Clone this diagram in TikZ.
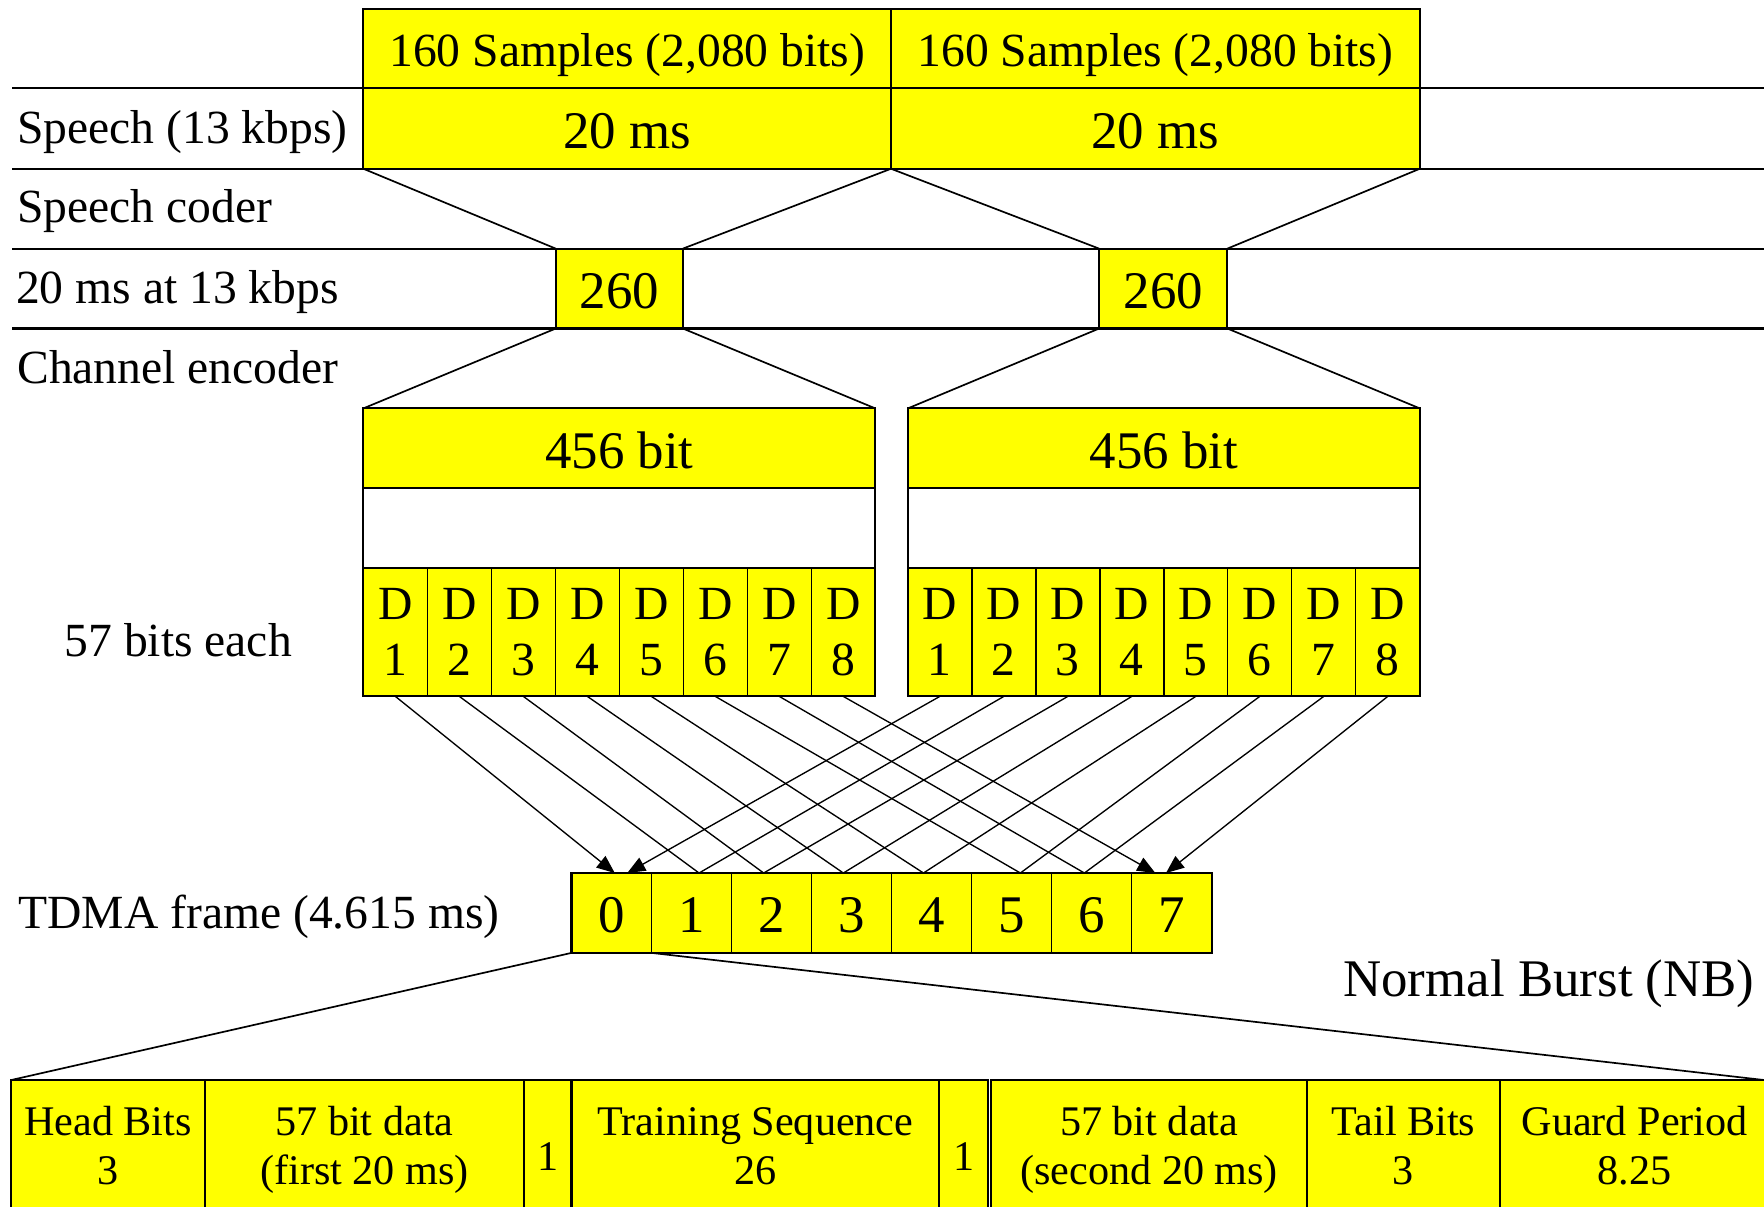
\documentclass[tikz,border=0pt]{standalone}
\usepackage{fontspec}
\setmainfont{Liberation Serif}
\usetikzlibrary{arrows.meta,calc}
\definecolor{fieldyellow}{RGB}{255,255,0}

\begin{document}
\begin{tikzpicture}[
  x=0.5pt, y=-0.5pt,
  cell/.style 2 args={draw, fill=fieldyellow, line width=0.9pt, inner sep=0pt,
    outer sep=0pt, anchor=north west,
    minimum width=#1*0.5pt, minimum height=#2*0.5pt},
  bigtxt/.style={font=\fontsize{23.5pt}{28pt}\selectfont,
    text height=17.6pt, text depth=0pt},
  medfont/.style={font=\fontsize{21.15pt}{25pt}\selectfont},
  dtxt/.style={font=\fontsize{21.15pt}{24.75pt}\selectfont, align=center},
  bottxt/.style={font=\fontsize{18.75pt}{22pt}\selectfont, align=center},
  onetxt/.style={font=\fontsize{18.75pt}{22pt}\selectfont,
    text height=9pt, text depth=0pt},
  rule/.style={line width=0.9pt},
  link/.style={line width=0.75pt},
  xlink/.style={line width=0.6pt},
  xarrow/.style={line width=0.6pt, -{Triangle[length=8pt,width=6.5pt]}},
  label/.style={medfont, anchor=base west, inner sep=0pt},
]
\useasboundingbox (0,0) rectangle (1568,1072);

% ruled rows behind the blocks
\draw[rule] (11,78) -- (323,78);
\draw[rule] (1262,78) -- (1568,78);
\draw[rule] (11,150) -- (1568,150);
\draw[rule] (11,221) -- (1568,221);
\draw[rule] (11,292) -- (1568,292);

% row labels
\node[label] (lspeech) at (15,127.4) {Speech (13 kbps)};
\node[label] (lcoder) at (15,198) {Speech coder};
\node[label] (lrate) at (14,269.6) {20 ms at 13 kbps};
\node[label] (lchan) at (15,340.7) {Channel encoder};
\node[label] (lbits) at (57,583.7) {57 bits each};
\node[label] (ltdma) at (16,825) {TDMA frame (4.615 ms)};
\node[font=\fontsize{23.5pt}{28pt}\selectfont, anchor=base east, inner sep=0pt] (lnb)
  at (1560,886) {Normal Burst (NB)};

% speech frames
\node[cell={469}{70}, medfont, text height=16.3pt, text depth=0pt] (s1) at (323,8) {160 Samples (2,080 bits)};
\node[cell={470}{70}, medfont, text height=16.3pt, text depth=0pt] (s2) at (792,8) {160 Samples (2,080 bits)};
\node[cell={469}{72}, bigtxt] (m1) at (323,78) {20 ms};
\node[cell={470}{72}, bigtxt] (m2) at (792,78) {20 ms};

% speech coder output
\node[cell={113}{71}, bigtxt] (c1) at (494,221) {260};
\node[cell={114}{71}, bigtxt] (c2) at (977,221) {260};

% channel encoder output
\node[cell={455}{71}, bigtxt] (e1) at (323,363) {456 bit};
\node[cell={455}{71}, bigtxt] (e2) at (807,363) {456 bit};
\node[cell={455}{71}, fill=white] (w1) at (323,434) {};
\node[cell={455}{71}, fill=white] (w2) at (807,434) {};

% interleaved sub-blocks
\foreach \i in {1,...,8} {
  \node[cell={56.875}{114}, line width=0.6pt, dtxt] (a\i) at ({323+(\i-1)*56.875},505) {D\\\i};
  \node[cell={56.875}{114}, line width=0.6pt, dtxt] (b\i) at ({807+(\i-1)*56.875},505) {D\\\i};
}
\draw[rule] (a1.north west) rectangle (a8.south east);
\draw[rule] (b1.north west) rectangle (b8.south east);

% TDMA frame slots
\foreach \i in {0,...,7} {
  \node[cell={71.125}{71}, line width=0.6pt, bigtxt] (t\i) at ({508+\i*71.125},776) {\i};
}
\draw[rule] (t0.north west) rectangle (t7.south east);

% normal burst fields
\node[cell={172}{142}, bottxt] (hb) at (10,960) {\smash{Head Bits}\\\smash{3}};
\node[cell={284}{142}, bottxt] (fd1) at (182,960) {\smash{57 bit data}\\\smash{(first 20 ms)}};
\node[cell={42}{142}, onetxt] (p1) at (466,960) {1};
\node[cell={327}{142}, bottxt] (ts) at (508,960) {\smash{Training Sequence}\\\smash{26}};
\node[cell={43}{142}, onetxt] (p2) at (835,960) {1};
\node[cell={281}{142}, bottxt] (fd2) at (881,960) {\smash{57 bit data}\\\smash{(second 20 ms)}};
\node[cell={171}{142}, bottxt] (tb) at (1162,960) {\smash{Tail Bits}\\\smash{3}};
\node[cell={240}{142}, bottxt] (gp) at (1333,960) {\smash{Guard Period}\\\smash{8.25}};
\coordinate (gpend) at (1568,960);

% expansion lines between stages
\draw[link] (m1.south west) -- (c1.north west);
\draw[link] (m1.south east) -- (c1.north east);
\draw[link] (m2.south west) -- (c2.north west);
\draw[link] (m2.south east) -- (c2.north east);
\draw[link] (c1.south west) -- (e1.north west);
\draw[link] (c1.south east) -- (e1.north east);
\draw[link] (c2.south west) -- (e2.north west);
\draw[link] (c2.south east) -- (e2.north east);
\draw[link] (t0.south west) -- (hb.north west);
\draw[link] (t0.south east) -- (gpend);

% landing points on the slots
\coordinate (kl0) at ($(t0.north)+(2.9,0)$);
\coordinate (kr0) at ($(t0.north)+(14,0)$);
\coordinate (k1) at ($(t1.north)+(6.7,0)$);
\coordinate (k2) at ($(t2.north)+(-7,0)$);
\coordinate (k3) at ($(t3.north)+(-7.3,0)$);
\coordinate (k4) at ($(t4.north)+(-7.2,0)$);
\coordinate (k5) at ($(t5.north)+(7.8,0)$);
\coordinate (k6) at ($(t6.north)+(-6.4,0)$);
\coordinate (kl7) at ($(t7.north)+(-14.5,0)$);
\coordinate (kr7) at ($(t7.north)+(-5,0)$);

% interleaving onto the slots
\draw[xarrow] (a1.south) -- (kl0);
\draw[xarrow] (b1.south) -- (kr0);
\draw[xarrow] (a8.south) -- (kl7);
\draw[xarrow] (b8.south) -- (kr7);
\foreach \i/\k in {2/k1,3/k2,4/k3,5/k4,6/k5,7/k6} {
  \draw[xlink] (a\i.south) -- (\k);
  \draw[xlink] (b\i.south) -- (\k);
}
\end{tikzpicture}
\end{document}
